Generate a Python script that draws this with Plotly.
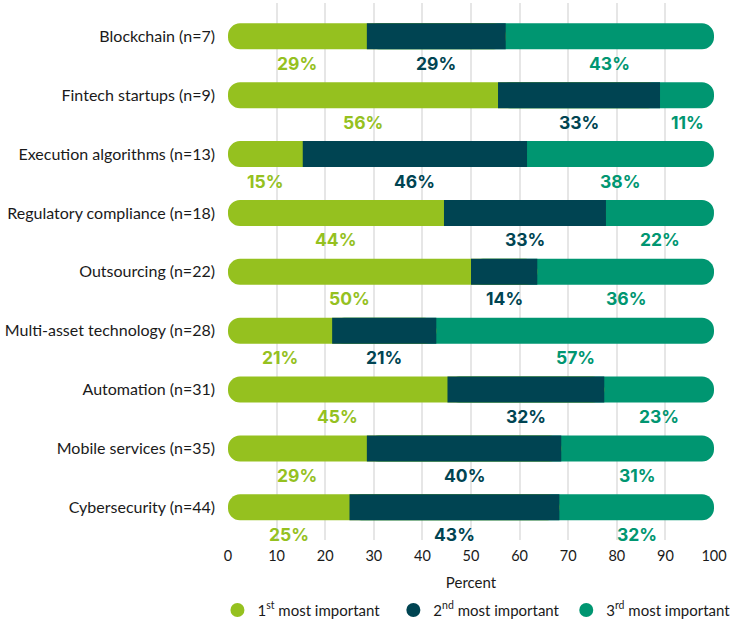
import plotly.graph_objects as go

categories = [
    "Blockchain (n=7)",
    "Fintech startups (n=9)",
    "Execution algorithms (n=13)",
    "Regulatory compliance (n=18)",
    "Outsourcing (n=22)",
    "Multi-asset technology (n=28)",
    "Automation (n=31)",
    "Mobile services (n=35)",
    "Cybersecurity (n=44)",
]
first = [28.57, 55.56, 15.38, 44.44, 50.00, 21.43, 45.16, 28.57, 25.00]
second = [28.57, 33.33, 46.15, 33.33, 13.64, 21.43, 32.26, 40.00, 43.18]
third = [42.86, 11.11, 38.46, 22.22, 36.36, 57.14, 22.58, 31.43, 31.82]
series_names = [
    "1<sup>st</sup> most important",
    "2<sup>nd</sup> most important",
    "3<sup>rd</sup> most important",
]
x_ticks = [0, 10, 20, 30, 40, 50, 60, 70, 80, 90, 100]

colors = ["#95C11F", "#004452", "#009671"]
FONT = "Lato"
LABEL_FONT = "Inter"
TEXT = "#1a1a1a"
RADIUS = 13
BAR_W = 0.44

cum1 = list(first)
cum2 = [a + b for a, b in zip(first, second)]

fig = go.Figure()
# Layered drawing so that only the two outer ends of each bar are rounded.
# bottom: 3rd segment, from end of 1st segment to the end (rounded; left end hidden)
fig.add_trace(go.Bar(
    y=categories, x=[b + c for b, c in zip(second, third)], base=cum1, orientation="h",
    name=series_names[2], marker=dict(color=colors[2], line=dict(width=0), cornerradius=RADIUS),
    width=BAR_W, showlegend=False, hoverinfo="skip",
))
# middle: 1st segment, from 0 to end of 2nd segment (right end hidden under 2nd)
fig.add_trace(go.Bar(
    y=categories, x=cum2, base=[0] * len(categories), orientation="h",
    name=series_names[0], marker=dict(color=colors[0], line=dict(width=0), cornerradius=RADIUS),
    width=BAR_W, showlegend=False, hoverinfo="skip",
))
# top: 2nd segment, square ends
fig.add_trace(go.Bar(
    y=categories, x=second, base=cum1, orientation="h",
    name=series_names[1], marker=dict(color=colors[1], line=dict(width=0), cornerradius=0),
    width=BAR_W, showlegend=False, hoverinfo="skip",
))

# legend entries with circular markers, one legend each for exact placement
legend_ids = ["legend", "legend2", "legend3"]
for name, col, lid in zip(series_names, colors, legend_ids):
    fig.add_trace(go.Scatter(
        x=[None], y=[None], mode="markers", name=name, legend=lid,
        marker=dict(color=col, size=14, symbol="circle"),
        showlegend=True, hoverinfo="skip",
    ))

series = [first, second, third]
annotations = []
for i, cat in enumerate(categories):
    start = 0.0
    for vals, col in zip(series, colors):
        v = vals[i]
        annotations.append(dict(
            x=start + v / 2, y=cat, xref="x", yref="y",
            text=f"<b>{v:.0f}%</b>", showarrow=False,
            yshift=-27, yanchor="middle", xanchor="center",
            font=dict(family=LABEL_FONT, size=17.5, color=col),
        ))
        start += v

legend_common = dict(
    orientation="h", xref="container", yref="container",
    xanchor="left", y=0.019, yanchor="middle",
    font=dict(size=15, color=TEXT), itemwidth=30,
    bgcolor="rgba(0,0,0,0)",
)

fig.update_layout(
    barmode="overlay",
    width=755, height=622,
    margin=dict(l=228, r=41, t=3, b=82, autoexpand=False),
    plot_bgcolor="white", paper_bgcolor="white",
    font=dict(family=FONT, size=15, color=TEXT),
    annotations=annotations,
    xaxis=dict(
        range=[0, 100], tickvals=x_ticks, ticktext=[str(t) for t in x_ticks],
        showgrid=True, gridcolor="#e6e6e6", gridwidth=1.5,
        zeroline=False, showline=False, ticks="",
        tickfont=dict(size=14.5, color=TEXT), ticklabelstandoff=5,
        title=dict(text="Percent", font=dict(size=15, color=TEXT), standoff=14),
        fixedrange=True, automargin=False,
    ),
    yaxis=dict(
        range=[8.555, -0.566], showgrid=False, zeroline=False, showline=False,
        ticks="", tickfont=dict(size=16, color=TEXT), ticklabelstandoff=12,
        fixedrange=True, automargin=False,
    ),
    legend=dict(x=0.288, **legend_common),
    legend2=dict(x=0.521, **legend_common),
    legend3=dict(x=0.750, **legend_common),
    showlegend=True,
)

fig.write_html(
    "out.html",
    config={"displayModeBar": False},
    post_script="document.body.style.margin='0';document.body.style.padding='0';",
)
